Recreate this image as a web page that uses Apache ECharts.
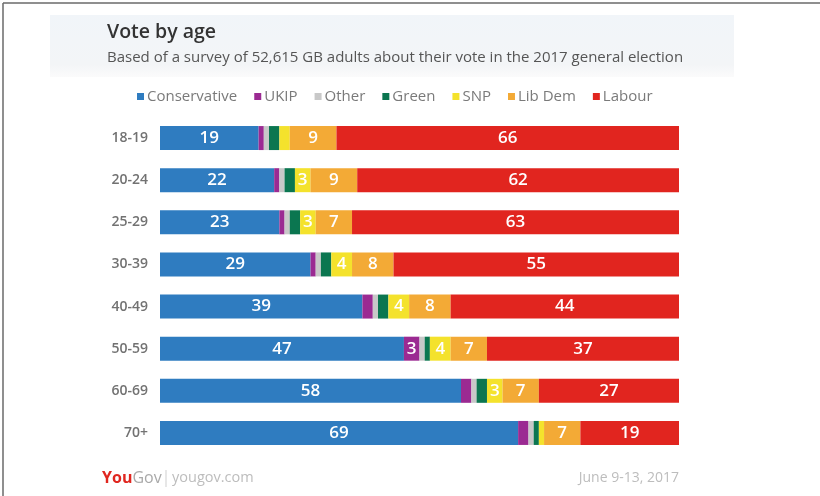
<!DOCTYPE html>
<html>
<head>
<meta charset="utf-8">
<script src="https://cdn.jsdelivr.net/npm/echarts@6/dist/echarts.min.js"></script>
<style>
  html, body { margin: 0; padding: 0; background: #ffffff; }
  #chart { width: 820px; height: 496px; }
</style>
</head>
<body>
<div id="chart"></div>
<script>
// Age bands, top to bottom
const ageBands = ['18-19', '20-24', '25-29', '30-39', '40-49', '50-59', '60-69', '70+'];

// Vote share (%) per party for each age band
const conservative = [19, 22, 23, 29, 39, 47, 58, 69];
const ukip         = [1, 1, 1, 1, 2, 3, 2, 2];
const other        = [1, 1, 1, 1, 1, 1, 1, 1];
const green        = [2, 2, 2, 2, 2, 1, 2, 1];
const snp          = [2, 3, 3, 4, 4, 4, 3, 1];
const libDem       = [9, 9, 7, 8, 8, 7, 7, 7];
const labour       = [66, 62, 63, 55, 44, 37, 27, 19];

const parties = [
  { name: 'Conservative', data: conservative, color: '#2f7cc0' },
  { name: 'UKIP',         data: ukip,         color: '#9b2a92' },
  { name: 'Other',        data: other,        color: '#c8c8c8' },
  { name: 'Green',        data: green,        color: '#0b7650' },
  { name: 'SNP',          data: snp,          color: '#f4e22c' },
  { name: 'Lib Dem',      data: libDem,       color: '#f3aa36' },
  { name: 'Labour',       data: labour,       color: '#e1251f' }
];

const FONT = '"Open Sans", Lato, sans-serif';

const chart = echarts.init(document.getElementById('chart'), null, { renderer: 'canvas' });

chart.setOption({
  backgroundColor: '#ffffff',
  animation: false,
  textStyle: { fontFamily: FONT },
  graphic: [
    // frame lines on the top and left
    { type: 'line', shape: { x1: 3, y1: 3, x2: 820, y2: 3 }, style: { stroke: '#6a6a6a', lineWidth: 1.5 } },
    { type: 'line', shape: { x1: 3, y1: 3, x2: 3, y2: 496 }, style: { stroke: '#6a6a6a', lineWidth: 1.5 } },
    // header panel
    {
      type: 'rect', shape: { x: 50, y: 15, width: 684, height: 62 },
      style: {
        fill: new echarts.graphic.LinearGradient(0, 0, 0, 1, [
          { offset: 0, color: '#f1f5f9' },
          { offset: 0.8, color: '#f3f5f7' },
          { offset: 1, color: '#fbfbfb' }
        ])
      }
    },
    {
      type: 'text', x: 107, y: 32,
      style: { text: 'Vote by age', fill: '#333333', font: '600 19.5px ' + FONT, verticalAlign: 'middle' }
    },
    {
      type: 'text', x: 107, y: 58,
      style: { text: 'Based of a survey of 52,615 GB adults about their vote in the 2017 general election', fill: '#555555', font: '15px ' + FONT, verticalAlign: 'middle' }
    },
    // footer
    {
      type: 'text', x: 102, y: 478,
      style: {
        text: '{a|You}{b|Gov}',
        verticalAlign: 'middle',
        rich: {
          a: { fill: '#e0261f', fontWeight: 'bold', fontSize: 16, fontFamily: FONT },
          b: { fill: '#a9a9a9', fontSize: 16, fontFamily: FONT }
        }
      }
    },
    { type: 'line', shape: { x1: 166, y1: 470, x2: 166, y2: 487 }, style: { stroke: '#cfcfcf', lineWidth: 1 } },
    {
      type: 'text', x: 172, y: 478,
      style: { text: 'yougov.com', fill: '#bdbdbd', font: '14.5px ' + FONT, verticalAlign: 'middle' }
    },
    {
      type: 'text', x: 679, y: 478,
      style: { text: 'June 9-13, 2017', fill: '#bdbdbd', font: '14px ' + FONT, align: 'right', verticalAlign: 'middle' }
    }
  ],
  legend: {
    left: 132, top: 84,
    icon: 'rect', itemWidth: 7, itemHeight: 7, itemGap: 17,
    textStyle: { color: '#7a7a7a', fontSize: 15, fontFamily: FONT, padding: [0, 0, 0, -2] },
    data: parties.map(p => p.name)
  },
  grid: { left: 160, right: 141, top: 117, height: 337, containLabel: false },
  xAxis: {
    type: 'value', min: 0, max: 100,
    show: false
  },
  yAxis: {
    type: 'category', data: ageBands, inverse: true,
    axisLine: { show: false }, axisTick: { show: false }, splitLine: { show: false },
    axisLabel: { color: '#727272', fontSize: 14, fontWeight: 600, fontFamily: FONT, margin: 12 }
  },
  series: parties.map(p => ({
    name: p.name,
    type: 'bar',
    stack: 'vote',
    barWidth: 24,
    data: p.data,
    itemStyle: { color: p.color },
    label: {
      show: true,
      position: 'inside',
      color: '#ffffff',
      fontSize: 17,
      fontWeight: 600,
      fontFamily: FONT,
      formatter: prm => (prm.value >= 3 ? String(prm.value) : '')
    }
  }))
});
</script>
</body>
</html>
